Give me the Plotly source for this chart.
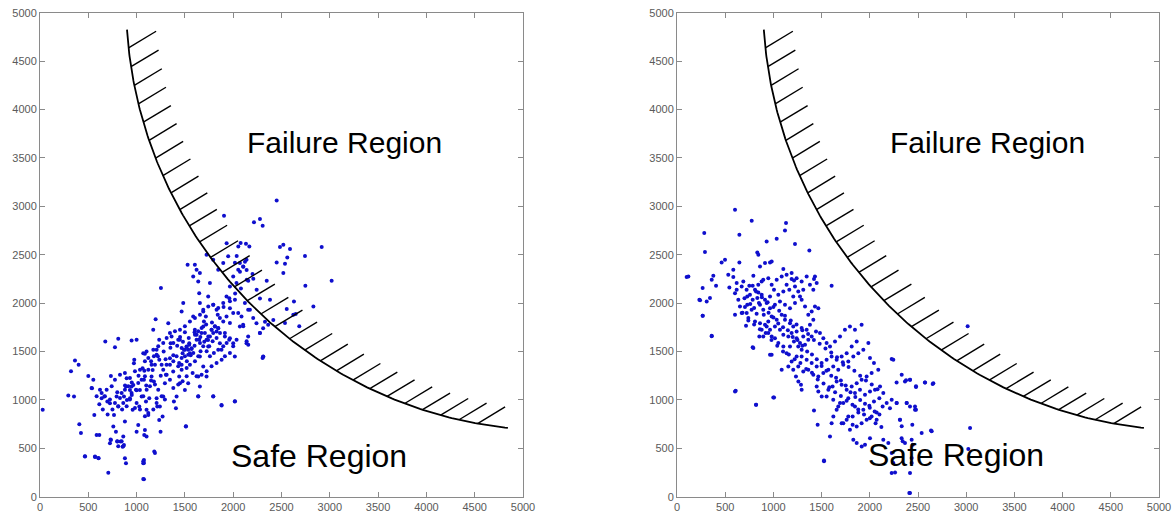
import numpy as np
import plotly.graph_objects as go

# ---------------- data ----------------
tick_values = [0, 500, 1000, 1500, 2000, 2500, 3000, 3500, 4000, 4500, 5000]
tick_labels = ["0", "500", "1000", "1500", "2000", "2500", "3000", "3500", "4000", "4500", "5000"]

# left panel samples (x, y)
left_points = [
    (28, 897), (293, 1045), (352, 1034), (362, 1407), (400, 1362), (321, 1297), (407, 748), (424, 659),
    (466, 414), (500, 1248), (552, 1207), (538, 1121), (562, 845), (586, 638), (614, 638), (569, 414),
    (607, 397), (614, 955), (638, 1017), (676, 1603), (776, 1545), (810, 1631), (707, 248), (724, 552),
    (734, 586), (759, 724), (766, 845), (666, 1034), (697, 983), (734, 1248), (724, 966), (793, 1034),
    (810, 931), (786, 672), (800, 569), (834, 569), (862, 621), (879, 397), (890, 345), (869, 534),
    (855, 517), (879, 776), (897, 1224), (890, 1138), (869, 1034), (931, 1017), (948, 1138), (931, 1103),
    (966, 1155), (976, 1414), (948, 1614), (1000, 1621), (972, 1379), (959, 897), (1000, 672), (1017, 741),
    (1028, 931), (1052, 1034), (1034, 1103), (1076, 1207), (1062, 1328), (1086, 1476), (1103, 1500),
    (1069, 1483), (1079, 638), (1086, 690), (1076, 379), (1069, 345), (1076, 179), (1103, 621), (1103, 897),
    (1097, 983), (1131, 1017), (1121, 845), (1155, 1241), (1179, 1190), (1166, 1310), (1190, 1362),
    (1207, 1517), (1234, 1621), (1172, 1724), (1197, 1834), (1183, 466), (1207, 1017), (1214, 931),
    (1241, 931), (1234, 793), (1248, 672), (1269, 828), (1276, 1034), (1252, 2155), (1293, 1172),
    (1303, 1259), (1310, 1362), (1328, 1793), (1345, 1431), (1352, 1586), (1362, 1655), (1379, 1293),
    (1386, 983), (1414, 1034), (1407, 914), (1448, 1172), (1441, 1241), (1466, 1362), (1476, 1483),
    (1448, 1621), (1466, 1914), (1483, 2000), (1500, 1517), (1517, 1552), (1534, 1517), (1545, 1586),
    (1552, 1483), (1569, 1534), (1510, 724), (1500, 1103), (1534, 1172), (1528, 2397), (1603, 2397),
    (1621, 2345), (1586, 2276), (1638, 2224), (1655, 2310), (1648, 2103), (1586, 1862), (1603, 1724),
    (1621, 1672), (1648, 1621), (1672, 1690), (1690, 1759), (1697, 1810), (1717, 1862), (1724, 1621),
    (1741, 1552), (1759, 1655), (1776, 1724), (1793, 1690), (1810, 1759), (1828, 1707), (1845, 1741),
    (1862, 1586), (1879, 1517), (1638, 1241), (1655, 1448), (1690, 1345), (1724, 1241), (1638, 1034),
    (1655, 1138), (1793, 1034), (1879, 948), (2017, 983), (1655, 2000), (1690, 1914), (1741, 2069),
    (1759, 2207), (1793, 1983), (1828, 1931), (1862, 1845), (1897, 1810), (1931, 1862), (1966, 1948),
    (2000, 1897), (1914, 1690), (1966, 1638), (2000, 1586), (2017, 1448), (2069, 1759), (2086, 1862),
    (2103, 1776), (2138, 1586), (2155, 1655), (2121, 2000), (2155, 1931), (2207, 1845), (2241, 1793),
    (2276, 1690), (2310, 1448), (2310, 1741), (2362, 1776), (1931, 2069), (1966, 2172), (2000, 2276),
    (2034, 2207), (2052, 2345), (2069, 2414), (2103, 2379), (2138, 2448), (1845, 2345), (1897, 2414),
    (1948, 2483), (1793, 2448), (1724, 2500),
    (2450, 3061), (1905, 2903), (2215, 2834), (2277, 2868), (2305, 2800), (1932, 2617), (2053, 2586),
    (2077, 2620), (2132, 2614), (2167, 2586), (2484, 2580), (2519, 2603), (2588, 2559), (2916, 2580),
    (2743, 2486), (3019, 2231), (2747, 2179), (2830, 1966), (2684, 1760), (2629, 2017), (2647, 1887),
    (2536, 1794), (2554, 1938), (2622, 1880), (2450, 2420), (2536, 2407), (2560, 2472), (2519, 2311),
    (2347, 2231), (2381, 2035), (2415, 1825), (2329, 1808), (2243, 2138), (2277, 2048), (2208, 2252),
    (2156, 2231), (2105, 2376), (2070, 2324), (2122, 2427), (2139, 2341), (2036, 2486), (2018, 2417),
    (2312, 1446),
    (1380, 1588), (1431, 1622), (1466, 1536), (1490, 1519), (1518, 1546), (1545, 1570), (1569, 1526),
    (1587, 1484), (1535, 1467), (1500, 1450), (1466, 1433), (1414, 1450), (1380, 1398), (1345, 1364),
    (1431, 1347), (1466, 1312), (1518, 1330), (1552, 1364), (1604, 1398), (1638, 1450), (1662, 1502),
    (1690, 1553), (1656, 1588), (1621, 1622), (1604, 1674), (1638, 1708), (1673, 1742), (1707, 1691),
    (1742, 1656), (1776, 1725), (1811, 1760), (1845, 1742), (1863, 1691), (1828, 1639), (1787, 1605),
    (1752, 1553), (1725, 1502), (1759, 1450), (1800, 1484), (1845, 1519), (1897, 1553), (1932, 1588),
    (1959, 1622), (1914, 1656), (2035, 1622), (2000, 1553), (1966, 1484), (1914, 1450), (1880, 1416),
    (1828, 1381), (1776, 1347), (1725, 1295), (1673, 1261), (1621, 1244), (1580, 1278), (1518, 1244),
    (1476, 1192), (1431, 1158), (1380, 1123), (1345, 1209), (1311, 1261), (1276, 1312), (1259, 1364),
    (1235, 1416), (1207, 1467), (1179, 1450), (1155, 1364), (1121, 1312), (1086, 1244), (1052, 1209),
    (1017, 1175), (993, 1106), (948, 1072), (914, 1140), (879, 1106), (845, 1072), (828, 1020),
    (931, 1003), (1000, 968), (1069, 1037), (1104, 1106), (1138, 1140), (1190, 1158), (1224, 1106),
    (1259, 1037), (1293, 1003), (1207, 968), (1173, 900), (1121, 865), (1086, 831), (1035, 900),
    (983, 917), (897, 934), (862, 968), (810, 934), (776, 968), (724, 1003), (672, 1037), (638, 1072),
    (586, 1037), (534, 1123), (621, 1106), (690, 1106), (742, 1140), (776, 1209), (828, 1261),
    (879, 1278), (931, 1226), (983, 1295), (1035, 1312), (1086, 1398), (1121, 1433), (1173, 1519),
    (1224, 1553), (1276, 1588), (1311, 1639), (1345, 1691), (1397, 1708), (1449, 1725), (1500, 1760),
    (1552, 1811), (1604, 1846), (1656, 1880), (1690, 1932), (1742, 1966), (1794, 1983), (1845, 1949),
    (1897, 2000), (1966, 2018), (2018, 2035),
    (2018, 986), (1880, 941), (1794, 1037), (1638, 1037), (1511, 728), (1190, 452), (1069, 366),
    (1076, 349), (1069, 184), (465, 418), (569, 411), (603, 401), (800, 573), (810, 521), (845, 573),
    (862, 521), (731, 590), (2139, 1605), (2156, 1570), (2277, 1691), (2304, 1433), (2104, 1760),
    (1966, 1794), (2052, 1897), (2173, 1932),
    (800, 1080), (880, 1150), (950, 1180), (1020, 1250), (1080, 1300), (1150, 1400), (1220, 1450),
    (1280, 1500), (1350, 1540), (1420, 1560), (1480, 1600), (1540, 1640), (1600, 1700), (1660, 1650),
    (1720, 1780), (1780, 1800), (1840, 1880), (1900, 1960), (1960, 2050), (2020, 2100), (2080, 2150),
    (2140, 2240), (2200, 2300), (1450, 1650), (1500, 1700), (1560, 1460), (1600, 1560), (1700, 1600),
    (1740, 1620), (1520, 1400), (1440, 1380), (1380, 1460), (1300, 1420), (1250, 1250), (1150, 1200),
    (1100, 1150), (1000, 1100), (950, 1050), (900, 1000), (850, 900), (750, 900), (700, 850), (650, 900),
]

# right panel samples (x, y)
right_points = [
    (602, 2964), (283, 2723), (290, 2527), (647, 2706), (775, 2851), (930, 2637), (1034, 2665),
    (1131, 2827), (1120, 2751), (1224, 2610), (1373, 2544), (833, 2524), (844, 2499), (463, 2420),
    (498, 2448), (100, 2269), (584, 2344), (647, 2420), (861, 2379), (913, 2413), (965, 2420),
    (982, 2430), (1103, 2351), (1189, 2248), (1214, 2234), (1431, 2276), (1421, 2248), (1604, 2179),
    (266, 2155), (377, 2282), (360, 2241), (405, 2179), (232, 2034), (308, 2017), (342, 2052),
    (266, 1869), (360, 1663), (543, 2162), (532, 2293), (584, 2269), (619, 2207), (602, 2103),
    (636, 2034), (653, 1966), (602, 1880), (671, 1897), (705, 1960), (729, 2069), (688, 2224),
    (792, 2282), (785, 2179), (844, 2110), (878, 2224), (716, 1766), (740, 1845), (723, 1897),
    (785, 1545), (965, 1466), (1086, 1311), (609, 1094), (820, 949), (999, 1025),
    (833, 2052), (861, 1983), (895, 1931), (930, 2000), (965, 2069), (1006, 2138), (1051, 2086),
    (1103, 2121), (1137, 2189), (1165, 2138), (1206, 2069), (1224, 2172), (1258, 2121), (1293, 2034),
    (1328, 1966), (1362, 1880), (1397, 1914), (1431, 1966), (1466, 1948), (1414, 1828), (1379, 1776),
    (1345, 1725), (1310, 1656), (1293, 1742), (1241, 1707), (1206, 1759), (1172, 1793), (1120, 1828),
    (1086, 1880), (1034, 1828), (982, 1862), (947, 1811), (913, 1776), (878, 1724), (854, 1656),
    (895, 1656), (947, 1690), (982, 1656), (1016, 1638), (1051, 1587),
    (1103, 1552), (1137, 1483), (1172, 1552), (1213, 1604), (1258, 1552), (1293, 1518), (1328, 1570),
    (1362, 1621), (1397, 1656), (1442, 1707), (1483, 1690), (1518, 1638), (1552, 1587), (1587, 1552),
    (1639, 1604), (1691, 1656), (1742, 1725), (1794, 1759), (1846, 1725), (1915, 1776), (1985, 1587),
    (1864, 1604), (1812, 1552), (1760, 1483), (1708, 1449), (1656, 1414), (1604, 1449), (1552, 1414),
    (1500, 1380), (1449, 1346), (1397, 1380), (1345, 1414), (1293, 1449), (1241, 1449), (1189, 1397),
    (1155, 1346), (1206, 1311), (1258, 1346), (1310, 1294), (1362, 1311), (1414, 1260), (1466, 1242),
    (1518, 1277), (1570, 1311), (1621, 1346), (1673, 1311), (1725, 1363), (1777, 1397), (1829, 1449),
    (1881, 1483), (1933, 1518), (2002, 1432), (2043, 1380), (2088, 1311), (2019, 1277), (1967, 1242),
    (1915, 1208), (1864, 1173), (1812, 1139), (1760, 1105), (1708, 1156), (1656, 1191), (1614, 1139),
    (1570, 1105), (1552, 1036), (1621, 1001), (1673, 932), (1725, 967), (1777, 1018), (1846, 1070),
    (1898, 1105), (1950, 1053), (2002, 1087), (2054, 1105), (2106, 1139), (2140, 1070), (2099, 1018),
    (2043, 984), (1995, 939), (1933, 898), (1881, 870), (1822, 829), (1760, 795), (1708, 760),
    (1794, 691), (1864, 726), (1915, 760), (1967, 795), (2019, 829), (2071, 870), (2133, 932),
    (2175, 967), (2227, 1001), (2209, 915), (2278, 967), (2313, 795), (2382, 967), (2365, 1191),
    (2417, 1208), (2479, 1132), (2572, 1180), (2659, 1173), (2227, 1422), (2278, 1180), (2417, 932),
    (2469, 898), (2140, 588), (2192, 554), (2227, 244), (2330, 605), (2365, 554), (2417, 244),
    (2434, 399), (2445, 536), (2635, 684), (1525, 374), (2410, 37),
    (1587, 622), (1604, 760), (1622, 829), (1656, 898), (1691, 967), (1725, 760), (1777, 829),
    (1822, 743), (1846, 932), (1829, 588), (1864, 554), (1916, 519), (1950, 537), (2002, 605),
    (2071, 795), (1234, 1242), (1259, 1191), (1286, 1156), (1293, 1105), (1449, 1139), (1466, 1087),
    (1501, 1036), (1421, 891), (1459, 743),
    (619, 2138), (671, 2172), (722, 2138), (757, 2086), (809, 2138), (843, 2189), (895, 2241),
    (947, 2258), (982, 2189), (1034, 2241), (1086, 2276), (1137, 2293), (1189, 2310), (1241, 2258),
    (1293, 2224), (1345, 2276), (1379, 2189), (1414, 2138), (1449, 2207), (1310, 2138), (1276, 2069),
    (1224, 2000), (1172, 1948), (1120, 1983), (1068, 2017), (1016, 1983), (965, 1948), (913, 2034),
    (878, 2086), (785, 2034), (729, 1983), (774, 1931), (826, 1890), (809, 1811), (861, 1793),
    (930, 1759), (965, 1724), (1016, 1759), (1068, 1724), (1103, 1673), (1155, 1656), (1189, 1690),
    (1241, 1638), (1276, 1587),
    (3015, 1760), (3040, 709), (2244, 1415), (2331, 1260), (2376, 1202), (2417, 1209), (2479, 1140),
    (2573, 1181), (2652, 1164), (2279, 968), (2383, 968), (2469, 933), (2479, 899), (2313, 796),
    (2331, 727), (2441, 744), (2538, 658), (2642, 675), (2434, 589), (2341, 572), (2227, 451),
    (2244, 348), (2434, 348), (2262, 251), (2417, 38), (3022, 493),
    (118, 2276), (239, 2029), (267, 1870), (360, 1657), (602, 1088), (820, 950), (1007, 1026),
    (982, 1467), (792, 1536), (1525, 365),
    (700, 2050), (760, 1990), (800, 1950), (850, 2000), (900, 1880), (950, 1900), (1000, 1850),
    (1050, 1790), (1100, 1750), (1150, 1720), (1200, 1650), (1250, 1620), (1300, 1560), (1350, 1500),
    (1400, 1470), (1450, 1420), (1500, 1350), (1550, 1300), (1600, 1250), (1650, 1230), (1700, 1200),
    (1750, 1150), (1800, 1080), (1850, 1030), (1900, 1000), (1950, 960), (2000, 920), (2050, 880),
    (2100, 850), (750, 2180), (820, 2120), (880, 2060), (940, 2010), (1000, 1960), (1060, 1920),
    (1120, 1870), (1180, 1820), (1240, 1780), (1300, 1720), (1360, 1680), (1420, 1620), (1480, 1580),
    (1540, 1530), (1600, 1490), (1660, 1440), (1720, 1390), (1780, 1340), (1840, 1300), (1900, 1250),
    (1960, 1200), (2020, 1160), (2080, 1110), (680, 1900), (740, 1820), (800, 1780), (860, 1730),
    (920, 1690), (980, 1620), (1040, 1560), (1100, 1500), (1160, 1470), (1220, 1420), (1280, 1380),
    (1340, 1320), (1400, 1280), (1460, 1210), (1520, 1170), (1580, 1130), (1640, 1080), (1700, 1040),
    (1760, 990), (1820, 950), (1880, 900), (1940, 850), (2000, 810), (2060, 760), (2120, 720),
]

# limit-state boundary (circular arc) and its hatching
boundary_center_x = 5322
boundary_center_y = 5115
boundary_radius = 4431
boundary_start_deg = 183.75
boundary_end_deg = 263.8
hatch_count = 30
hatch_first_deg = 186.2
hatch_last_deg = 259.7
hatch_dx = 285
hatch_dy = 172

region_labels = ["Failure Region", "Safe Region"]
label_sizes = [30, 32]
left_label_pos = [(3157, 3662), (2888, 424)]
right_label_pos = [(3226, 3662), (2894, 434)]

# ---------------- figure ----------------
fig = go.Figure()

theta = np.radians(np.linspace(boundary_start_deg, boundary_end_deg, 200))
arc_x = boundary_center_x + boundary_radius * np.cos(theta)
arc_y = boundary_center_y + boundary_radius * np.sin(theta)

h_theta = np.radians(np.linspace(hatch_first_deg, hatch_last_deg, hatch_count))
hx, hy = [], []
for t in h_theta:
    bx = boundary_center_x + boundary_radius * np.cos(t)
    by = boundary_center_y + boundary_radius * np.sin(t)
    hx += [bx, bx + hatch_dx, None]
    hy += [by, by + hatch_dy, None]

marker_style = dict(color="rgb(15,15,205)", size=4, line=dict(width=0))

for pts, xa, ya in [(left_points, "x", "y"), (right_points, "x2", "y2")]:
    fig.add_trace(go.Scatter(x=[p[0] for p in pts], y=[p[1] for p in pts], mode="markers",
                             marker=marker_style, xaxis=xa, yaxis=ya, hoverinfo="skip"))
    fig.add_trace(go.Scatter(x=arc_x, y=arc_y, mode="lines", line=dict(color="black", width=1.8),
                             xaxis=xa, yaxis=ya, hoverinfo="skip"))
    fig.add_trace(go.Scatter(x=hx, y=hy, mode="lines", line=dict(color="black", width=1.4),
                             xaxis=xa, yaxis=ya, hoverinfo="skip"))

axis_style = dict(range=[0, 5000], tickvals=tick_values, ticktext=tick_labels,
                  showline=True, linecolor="#8a8a8a", linewidth=1, mirror="allticks",
                  ticks="inside", ticklen=5, tickcolor="#8a8a8a", showgrid=False, zeroline=False,
                  tickfont=dict(family="Liberation Sans, Arial", size=11, color="#5a5a5a"),
                  automargin=False, fixedrange=True)

ydom = [17.3 / 514, 1 - 12.7 / 514]
fig.update_layout(
    template="none",
    width=1172, height=514,
    margin=dict(l=0, r=0, t=0, b=0),
    paper_bgcolor="white", plot_bgcolor="white",
    showlegend=False,
    xaxis=dict(domain=[40 / 1172, 523 / 1172], anchor="y", **axis_style),
    yaxis=dict(domain=ydom, anchor="x", **axis_style),
    xaxis2=dict(domain=[677 / 1172, 1159 / 1172], anchor="y2", **axis_style),
    yaxis2=dict(domain=ydom, anchor="x2", **axis_style),
)

for xr, yr, positions in [("x", "y", left_label_pos), ("x2", "y2", right_label_pos)]:
    for text, size, (tx, ty) in zip(region_labels, label_sizes, positions):
        fig.add_annotation(x=tx, y=ty, xref=xr, yref=yr, text=text, showarrow=False,
                           xanchor="center", yanchor="middle",
                           font=dict(family="Liberation Sans, Arial", size=size, color="black"))

fig.write_html("out.html")
